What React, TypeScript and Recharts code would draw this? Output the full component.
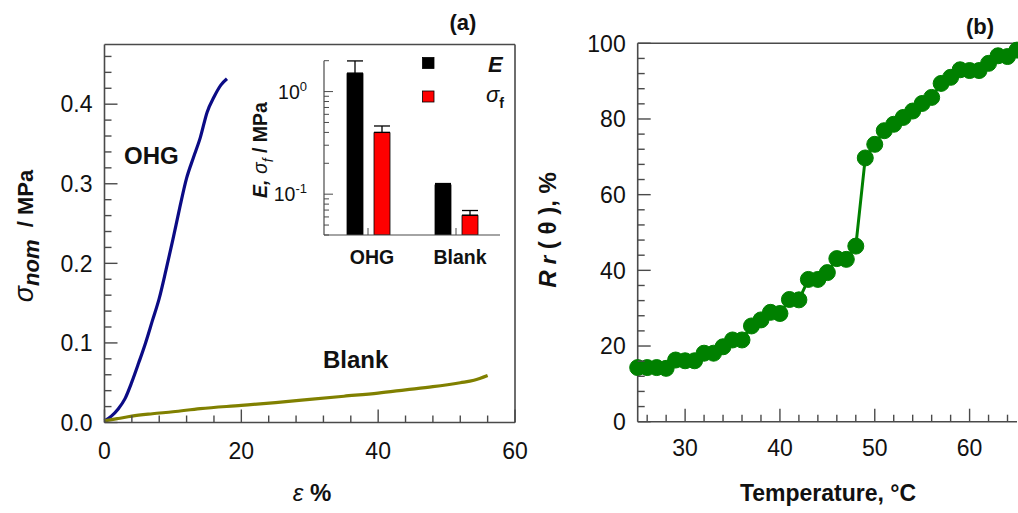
import React from "react";
import { Bar, BarChart, ErrorBar, Legend, Line, LineChart, ReferenceLine, XAxis, YAxis } from "recharts";

const FONT = '"Liberation Sans", Arial, Helvetica, sans-serif';
const AXIS = "#4a4a4a";
const INK = "#111";

// (a) stress–strain curves: strain in %, nominal stress in MPa
const ohgStrain = [0, 1, 2, 3, 4, 5, 6, 7, 8, 9, 10, 11, 12, 13, 14, 15, 16, 17, 17.9];
const ohgStress = [0.002, 0.008, 0.017, 0.03, 0.051, 0.075, 0.1, 0.128, 0.156, 0.192, 0.23, 0.27, 0.307, 0.333, 0.358, 0.39, 0.409, 0.424, 0.432];
const blankStrain = [0, 2, 4, 7, 10, 14, 20, 25, 30, 35, 40, 44, 48, 52, 54, 56];
const blankStress = [0.002, 0.005, 0.008, 0.011, 0.0135, 0.0175, 0.0215, 0.025, 0.029, 0.033, 0.037, 0.041, 0.045, 0.05, 0.053, 0.059];

const strainTicks = [0, 4, 8, 12, 16, 20, 24, 28, 32, 36, 40, 44, 48, 52, 56, 60];
const strainLabels = [0, 20, 40, 60];
const stressTicks = [0, 0.02, 0.04, 0.06, 0.08, 0.1, 0.12, 0.14, 0.16, 0.18, 0.2, 0.22, 0.24, 0.26, 0.28, 0.3, 0.32, 0.34, 0.36, 0.38, 0.4, 0.42, 0.44, 0.46];
const stressLabels = [0, 0.1, 0.2, 0.3, 0.4];

// inset: Young's modulus E and fracture stress, log scale
const samples = ["OHG", "Blank"];
const modulus = [1.51, 0.124];
const modulusErr = [0.48, 0.003];
const fracture = [0.4, 0.0623];
const fractureErr = [0.062, 0.007];
const logTicks = [0.04, 0.05, 0.06, 0.07, 0.08, 0.09, 0.1, 0.2, 0.3, 0.4, 0.5, 0.6, 0.7, 0.8, 0.9, 1, 2];
const logLabels = [0.1, 1];
const logExponents = ["-1", "0"];

// (b) Rr(θ) against temperature
const temps = [25, 26, 27, 28, 29, 30, 31, 32, 33, 34, 35, 36, 37, 38, 39, 40, 41, 42, 43, 44, 45, 46, 47, 48, 49, 50, 51, 52, 53, 54, 55, 56, 57, 58, 59, 60, 61, 62, 63, 64, 65];
const rr = [
  14.3, 14.3, 14.3, 14.1, 16.3, 16.1, 16.1, 18.1, 18.1, 19.8,
  21.6, 21.6, 25.3, 26.9, 28.9, 28.6, 32.3, 32.2, 37.6, 37.6,
  39.4, 43.1, 42.9, 46.4, 69.7, 73.3, 76.9, 78.6, 80.4, 82.1,
  84.1, 85.7, 89.4, 91.0, 93.0, 92.8, 92.8, 94.7, 96.7, 96.5, 98.2,
];
const tempTicks = [26, 28, 30, 32, 34, 36, 38, 40, 42, 44, 46, 48, 50, 52, 54, 56, 58, 60, 62, 64];
const tempLabels = [30, 40, 50, 60];
const rrTicks = [0, 4, 8, 12, 16, 20, 24, 28, 32, 36, 40, 44, 48, 52, 56, 60, 64, 68, 72, 76, 80, 84, 88, 92, 96, 100];
const rrLabels = [0, 20, 40, 60, 80, 100];

const ohgData = ohgStrain.map((x, i) => ({ x, y: ohgStress[i] }));
const blankData = blankStrain.map((x, i) => ({ x, y: blankStress[i] }));
const insetData = samples.map((name, i) => ({
  name,
  E: modulus[i],
  sf: fracture[i],
  eErr: [0, modulusErr[i]],
  sfErr: [0, fractureErr[i]],
}));
const rrData = temps.map((t, i) => ({ t, rr: rr[i] }));

const has = (list: number[], v: number) => list.some((l) => Math.abs(l - v) < 1e-9);

// ticks point into the plot; only the major ones carry a label
function leftTick(labels: number[], fmt: (v: number) => React.ReactNode, opts: { major: number; minor: number; size: number; gap: number }) {
  return (props: any) => {
    const { x, y, payload } = props;
    const major = has(labels, payload.value);
    return (
      <g>
        <line x1={x} x2={x + (major ? opts.major : opts.minor)} y1={y} y2={y} stroke={AXIS} strokeWidth={1.4} />
        {major && (
          <text x={x - opts.gap} y={y} dy="0.36em" textAnchor="end" fontSize={opts.size} fontFamily={FONT} fill={INK}>
            {fmt(payload.value)}
          </text>
        )}
      </g>
    );
  };
}

function bottomTick(labels: number[], opts: { major: number; minor: number; size: number; gap: number }) {
  return (props: any) => {
    const { x, y, payload } = props;
    const major = has(labels, payload.value);
    return (
      <g>
        <line x1={x} x2={x} y1={y} y2={y - (major ? opts.major : opts.minor)} stroke={AXIS} strokeWidth={1.4} />
        {major && (
          <text x={x} y={y + opts.gap} dy="0.36em" textAnchor="middle" fontSize={opts.size} fontFamily={FONT} fill={INK}>
            {payload.value}
          </text>
        )}
      </g>
    );
  };
}

const insetCategoryTick = (props: any) => {
  const { x, y, payload } = props;
  return (
    <g>
      <line x1={x} x2={x} y1={y} y2={y - 7} stroke={AXIS} strokeWidth={1} />
      <text x={x + 4} y={y + 22} dy="0.36em" textAnchor="middle" fontSize={19.5} fontWeight="bold" fontFamily={FONT} fill={INK}>
        {payload.value}
      </text>
    </g>
  );
};

const logTick = (props: any) => {
  const { x, y, payload } = props;
  const idx = logLabels.findIndex((l) => Math.abs(l - payload.value) < 1e-9);
  return (
    <g>
      <line x1={x} x2={x + (idx >= 0 ? 9 : 5)} y1={y} y2={y} stroke={AXIS} strokeWidth={1} />
      {idx >= 0 && (
        <text x={x - 17} y={y} dy="0.36em" textAnchor="end" fontSize={19.5} fontFamily={FONT} fill={INK}>
          10
          <tspan fontSize={13} dy={-8}>{logExponents[idx]}</tspan>
        </text>
      )}
    </g>
  );
};

const insetLegend = (props: any) => {
  const items = (props.payload || []) as any[];
  return (
    <svg width={100} height={60} style={{ display: "block", overflow: "visible" }}>
      {items.map((it, i) => (
        <g key={String(it.dataKey)} transform={`translate(0, ${i * 33.5})`}>
          <rect x={0.5} y={0.5} width={11.5} height={11} fill={it.color} stroke="#000" strokeWidth={0.8} />
          {it.dataKey === "E" ? (
            <text x={66} y={15} fontSize={22} fontWeight="bold" fontStyle="italic" fontFamily={FONT} fill={INK}>E</text>
          ) : (
            <text x={64} y={11} fontSize={22} fontStyle="italic" fontFamily={FONT} fill={INK}>
              σ<tspan fontSize={14} fontStyle="normal" fontWeight="bold" dy={6}>f</tspan>
            </text>
          )}
        </g>
      ))}
    </svg>
  );
};

const lbl = { fontFamily: FONT, fill: INK } as const;

export default function App() {
  return (
    <div style={{ position: "absolute", left: 0, top: 0, width: 1018, height: 513, background: "#fff", fontFamily: FONT }}>
      {/* (a) stress–strain; plot box 104.5..515 x 44.5..422.5 */}
      <div style={{ position: "absolute", left: 0, top: 0 }}>
        <LineChart width={530} height={513} margin={{ top: 44.5, left: 44.5, right: 15, bottom: 50.5 }}>
          <XAxis
            dataKey="x"
            type="number"
            domain={[0, 60]}
            ticks={strainTicks}
            interval={0}
            height={40}
            tickSize={0}
            tickMargin={0}
            axisLine={{ stroke: AXIS, strokeWidth: 1.6 }}
            tick={bottomTick(strainLabels, { major: 13, minor: 7, size: 23, gap: 28 })}
          />
          <YAxis
            type="number"
            domain={[0, 0.475]}
            ticks={stressTicks}
            interval={0}
            width={60}
            tickSize={0}
            tickMargin={0}
            axisLine={{ stroke: AXIS, strokeWidth: 1.6 }}
            tick={leftTick(stressLabels, (v) => v.toFixed(1), { major: 13, minor: 7, size: 23, gap: 12 })}
          />
          <ReferenceLine y={0.475} stroke={AXIS} strokeWidth={1.6} />
          <ReferenceLine x={60} stroke={AXIS} strokeWidth={1.6} />
          <Line data={ohgData} dataKey="y" type="monotone" stroke="#0b0b85" strokeWidth={3.2} dot={false} isAnimationActive={false} />
          <Line data={blankData} dataKey="y" type="monotone" stroke="#808000" strokeWidth={3.2} dot={false} isAnimationActive={false} />
        </LineChart>
      </div>

      {/* inset bars; plot box 324..500 x 60.7..235 */}
      <div style={{ position: "absolute", left: 240, top: 40 }}>
        <BarChart width={290} height={240} data={insetData} margin={{ top: 20.7, left: 54, right: 30, bottom: 15 }} barSize={16} barGap={11}>
          <XAxis
            dataKey="name"
            height={30}
            tickSize={0}
            tickMargin={0}
            interval={0}
            axisLine={{ stroke: AXIS, strokeWidth: 1.2 }}
            tick={insetCategoryTick}
          />
          <YAxis
            type="number"
            scale="log"
            domain={[0.04, 2]}
            allowDataOverflow
            ticks={logTicks}
            interval={0}
            width={30}
            tickSize={0}
            tickMargin={0}
            axisLine={{ stroke: AXIS, strokeWidth: 1.2 }}
            tick={logTick}
          />
          <Legend
            layout="vertical"
            align="center"
            verticalAlign="middle"
            content={insetLegend}
            wrapperStyle={{ left: 181.5, top: 16.5, width: 100 }}
          />
          <Bar dataKey="E" fill="#000" stroke="#000" strokeWidth={0.8} isAnimationActive={false}>
            <ErrorBar dataKey="eErr" width={8} stroke="#000" strokeWidth={1.3} direction="y" />
          </Bar>
          <Bar dataKey="sf" fill="#ff0000" stroke="#000" strokeWidth={0.8} isAnimationActive={false}>
            <ErrorBar dataKey="sfErr" width={8} stroke="#000" strokeWidth={1.3} direction="y" />
          </Bar>
        </BarChart>
      </div>

      {/* (b) Rr(θ); plot box 637.7..1017 x 43.3..421.7 */}
      <div style={{ position: "absolute", left: 560, top: 0 }}>
        <LineChart width={458} height={513} data={rrData} margin={{ top: 43.3, left: 17.7, right: 1, bottom: 51.3 }}>
          <XAxis
            dataKey="t"
            type="number"
            domain={[25, 65]}
            ticks={tempTicks}
            interval={0}
            height={40}
            tickSize={0}
            tickMargin={0}
            axisLine={{ stroke: AXIS, strokeWidth: 1.6 }}
            tick={bottomTick(tempLabels, { major: 13, minor: 7, size: 23, gap: 26 })}
          />
          <YAxis
            type="number"
            domain={[0, 100]}
            ticks={rrTicks}
            interval={0}
            width={60}
            tickSize={0}
            tickMargin={0}
            axisLine={{ stroke: AXIS, strokeWidth: 1.6 }}
            tick={leftTick(rrLabels, (v) => String(v), { major: 13, minor: 7, size: 23, gap: 12 })}
          />
          <ReferenceLine y={100} stroke={AXIS} strokeWidth={1.6} />
          <Line
            dataKey="rr"
            type="linear"
            stroke="#008000"
            strokeWidth={3}
            dot={{ r: 8, fill: "#008000", stroke: "#008000", strokeWidth: 1 }}
            isAnimationActive={false}
          />
        </LineChart>
      </div>

      {/* titles and annotations */}
      <svg width={1018} height={513} style={{ position: "absolute", left: 0, top: 0, pointerEvents: "none" }}>
        <text x={463} y={30} textAnchor="middle" fontSize={22} fontWeight="bold" {...lbl}>(a)</text>
        <text x={980} y={34} textAnchor="middle" fontSize={22} fontWeight="bold" {...lbl}>(b)</text>

        <text x={124} y={164} fontSize={24} fontWeight="bold" {...lbl}>OHG</text>
        <text x={323} y={368} fontSize={24} fontWeight="bold" {...lbl}>Blank</text>

        <text transform="translate(33,236) rotate(-90)" textAnchor="middle" fontSize={22} fontWeight="bold" {...lbl}>
          <tspan fontWeight="normal" fontStyle="italic" fontSize={27}>σ</tspan>
          <tspan fontStyle="italic" dy={6}>nom</tspan>
          <tspan dy={-6}>{"\u00a0\u00a0/ MPa"}</tspan>
        </text>
        <text x={312} y={501} textAnchor="middle" fontSize={24} {...lbl}>
          <tspan fontStyle="italic">ε</tspan>
          <tspan fontWeight="bold">{"\u00a0%"}</tspan>
        </text>

        <text transform="translate(267,150) rotate(-90)" textAnchor="middle" fontSize={19.5} fontWeight="bold" {...lbl}>
          <tspan fontStyle="italic">E,</tspan>
          <tspan fontWeight="normal" fontStyle="italic">{"\u00a0σ"}</tspan>
          <tspan fontWeight="normal" fontStyle="italic" fontSize={14} dy={6}>f</tspan>
          <tspan dy={-6}>{"\u00a0/ MPa"}</tspan>
        </text>

        <text transform="translate(556,230) rotate(-90)" textAnchor="middle" fontSize={24} fontWeight="bold" {...lbl}>
          <tspan fontStyle="italic">R</tspan>
          <tspan fontStyle="italic" fontSize={22}>{"\u00a0r"}</tspan>
          <tspan>{"\u00a0(\u00a0θ\u00a0), %"}</tspan>
        </text>
        <text x={828} y={501} textAnchor="middle" fontSize={23} fontWeight="bold" {...lbl}>Temperature, °C</text>
      </svg>
    </div>
  );
}
